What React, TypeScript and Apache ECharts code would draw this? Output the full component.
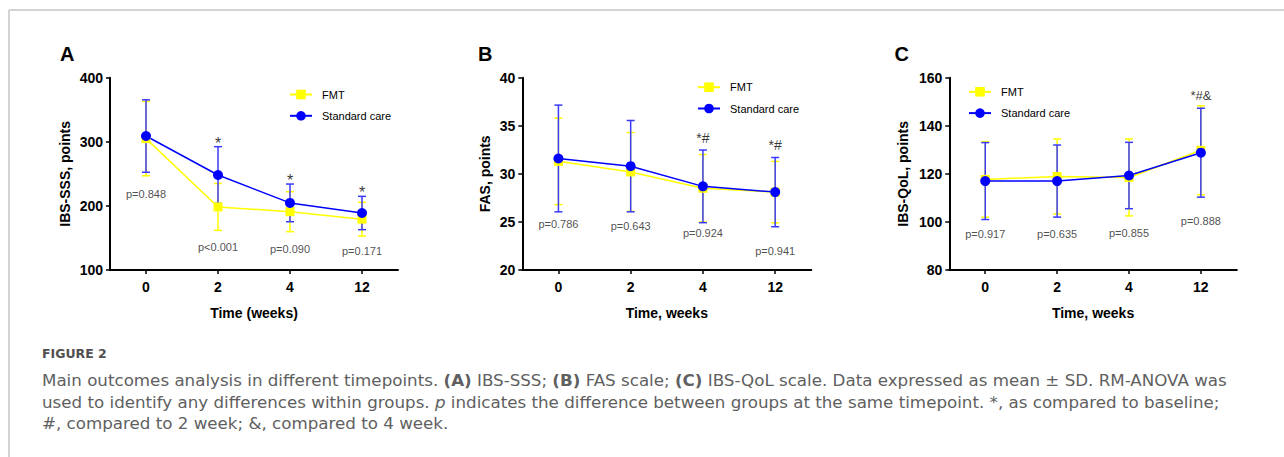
import React, { useEffect, useRef } from 'react';
import * as echarts from 'echarts';

// ---------- data ----------
const weeks = ['0', '2', '4', '12'];
const seriesNames = ['FMT', 'Standard care'];

// Panel A: IBS-SSS
const sssFmtMean = [305, 198.4, 191, 179.3];
const sssFmtSd = [58, 36.6, 31.2, 26.3];
const sssScMean = [309, 248.2, 204.7, 188.9];
const sssScSd = [56.5, 44.2, 29.4, 26];
const sssPValues = ['p=0.848', 'p<0.001', 'p=0.090', 'p=0.171'];
const sssMarks = ['', '*', '*', '*'];

// Panel B: FAS
const fasFmtMean = [31.3, 30.2, 28.5, 28.1];
const fasFmtSd = [4.5, 4.1, 3.5, 3.2];
const fasScMean = [31.6, 30.8, 28.7, 28.1];
const fasScSd = [5.55, 4.75, 3.78, 3.6];
const fasPValues = ['p=0.786', 'p=0.643', 'p=0.924', 'p=0.941'];
const fasMarks = ['', '', '*#', '*#'];

// Panel C: IBS-QoL
const qolFmtMean = [117.7, 118.9, 118.5, 129.8];
const qolFmtSd = [15.7, 15.6, 16, 18.5];
const qolScMean = [117.0, 117.0, 119.3, 128.8];
const qolScSd = [16, 15, 13.8, 18.5];
const qolPValues = ['p=0.917', 'p=0.635', 'p=0.855', 'p=0.888'];
const qolMarks = ['', '', '', '*#&'];

// annotation anchor heights (axis units)
const sssPAt = [218.6, 136.3, 133.2, 130.1];
const sssMarkAt = [0, 297.3, 240.1, 220.9];
const fasPAt = [24.75, 24.58, 23.88, 22.0];
const fasMarkAt = [0, 0, 33.76, 33.0];
const qolPAt = [94.9, 94.9, 95.3, 100.4];
const qolMarkAt = [0, 0, 0, 152.8];

const FONT = 'Arial, "Liberation Sans", Helvetica, sans-serif';
const CAP_FONT = '"DejaVu Sans", "Open Sans", sans-serif';
const CAP_SIZE = 16.7;
const CAP_COLOR = '#606060';
const YELLOW = '#ffff00';
const BLUE = '#0000ff';
const BLUE_ERR = '#3a3aff';

type Panel = {
  letter: string;
  yName: string;
  xName: string;
  min: number;
  max: number;
  interval: number;
  fmtMean: number[];
  fmtSd: number[];
  scMean: number[];
  scSd: number[];
  pValues: string[];
  marks: string[];
  pAt: number[];
  markAt: number[];
  markSize: number;
  grid: { left: number; top: number; width: number; height: number };
  yNameGap: number;
  legend: { left: number; top: number };
  letterPos: [number, number];
};

const panels: Panel[] = [
  {
    letter: 'A', yName: 'IBS-SSS, points', xName: 'Time (weeks)', min: 100, max: 400, interval: 100,
    fmtMean: sssFmtMean, fmtSd: sssFmtSd, scMean: sssScMean, scSd: sssScSd,
    pValues: sssPValues, marks: sssMarks, pAt: sssPAt, markAt: sssMarkAt, markSize: 16,
    grid: { left: 110, top: 77.7, width: 288, height: 192.3 }, yNameGap: 38,
    legend: { left: 289, top: 89 }, letterPos: [67, 55],
  },
  {
    letter: 'B', yName: 'FAS, points', xName: 'Time, weeks', min: 20, max: 40, interval: 5,
    fmtMean: fasFmtMean, fmtSd: fasFmtSd, scMean: fasScMean, scSd: fasScSd,
    pValues: fasPValues, marks: fasMarks, pAt: fasPAt, markAt: fasMarkAt, markSize: 14,
    grid: { left: 522.3, top: 77.7, width: 289, height: 192.3 }, yNameGap: 30,
    legend: { left: 697, top: 81.7 }, letterPos: [485, 55],
  },
  {
    letter: 'C', yName: 'IBS-QoL, points', xName: 'Time, weeks', min: 80, max: 160, interval: 20,
    fmtMean: qolFmtMean, fmtSd: qolFmtSd, scMean: qolScMean, scSd: qolScSd,
    pValues: qolPValues, marks: qolMarks, pAt: qolPAt, markAt: qolMarkAt, markSize: 13,
    grid: { left: 949.3, top: 77.7, width: 287.5, height: 192.3 }, yNameGap: 39,
    legend: { left: 968, top: 86.3 }, letterPos: [901.5, 55],
  },
];

const errRender = (color: string) => (params: any, api: any) => {
  const x = api.value(0);
  const lo = api.coord([x, api.value(1)]);
  const hi = api.coord([x, api.value(2)]);
  const hw = 4;
  const style = { stroke: color, lineWidth: 1.5, fill: 'none' };
  return {
    type: 'group',
    children: [
      { type: 'line', shape: { x1: lo[0], y1: lo[1], x2: hi[0], y2: hi[1] }, style },
      { type: 'line', shape: { x1: lo[0] - hw, y1: lo[1], x2: lo[0] + hw, y2: lo[1] }, style },
      { type: 'line', shape: { x1: hi[0] - hw, y1: hi[1], x2: hi[0] + hw, y2: hi[1] }, style },
    ],
  };
};

function buildOption() {
  const grid: any[] = [];
  const xAxis: any[] = [];
  const yAxis: any[] = [];
  const legend: any[] = [];
  const series: any[] = [];
  const graphic: any[] = [];

  panels.forEach((p, i) => {
    grid.push({ ...p.grid, containLabel: false });
    xAxis.push({
      type: 'category', gridIndex: i, data: weeks, boundaryGap: true,
      axisLine: { lineStyle: { color: '#000', width: 2 } },
      axisTick: { show: true, alignWithLabel: true, length: 4, lineStyle: { color: '#000', width: 1.5 } },
      axisLabel: { color: '#000', fontFamily: FONT, fontWeight: 'bold', fontSize: 14, margin: 10 },
      name: p.xName, nameLocation: 'middle', nameGap: 36,
      nameTextStyle: { color: '#000', fontFamily: FONT, fontWeight: 'bold', fontSize: 14 },
      splitLine: { show: false },
    });
    yAxis.push({
      type: 'value', gridIndex: i, min: p.min, max: p.max, interval: p.interval,
      axisLine: { show: true, lineStyle: { color: '#000', width: 2 } },
      axisTick: { show: true, length: 4, lineStyle: { color: '#000', width: 1.5 } },
      axisLabel: { color: '#000', fontFamily: FONT, fontWeight: 'bold', fontSize: 14, margin: 7 },
      splitLine: { show: false },
      name: p.yName, nameLocation: 'middle', nameGap: p.yNameGap,
      nameTextStyle: { color: '#000', fontFamily: FONT, fontWeight: 'bold', fontSize: 14 },
    });
    legend.push({
      data: seriesNames, orient: 'vertical', left: p.legend.left, top: p.legend.top,
      itemWidth: 22, itemHeight: 12, itemGap: 10.3, padding: 0, selectedMode: false,
      textStyle: { color: '#000', fontFamily: FONT, fontSize: 11, padding: [0, 0, 0, 5] },
    });

    series.push({
      type: 'custom', name: 'FMT SD ' + p.letter, xAxisIndex: i, yAxisIndex: i, silent: true,
      renderItem: errRender(YELLOW), encode: { x: 0, y: [1, 2] },
      data: p.fmtMean.map((m, k) => [k, m - p.fmtSd[k], m + p.fmtSd[k]]),
    });
    series.push({
      type: 'line', name: seriesNames[0], xAxisIndex: i, yAxisIndex: i, silent: true,
      data: p.fmtMean, symbol: 'rect', symbolSize: 9,
      lineStyle: { color: YELLOW, width: 1.5 }, itemStyle: { color: YELLOW },
    });
    series.push({
      type: 'custom', name: 'SC SD ' + p.letter, xAxisIndex: i, yAxisIndex: i, silent: true,
      renderItem: errRender(BLUE_ERR), encode: { x: 0, y: [1, 2] },
      data: p.scMean.map((m, k) => [k, m - p.scSd[k], m + p.scSd[k]]),
    });
    series.push({
      type: 'line', name: seriesNames[1], xAxisIndex: i, yAxisIndex: i, silent: true,
      data: p.scMean, symbol: 'circle', symbolSize: 10,
      lineStyle: { color: BLUE, width: 1.5 }, itemStyle: { color: BLUE },
    });

    const ann: any[] = [];
    p.pValues.forEach((t, k) => {
      ann.push({
        value: [k, p.pAt[k]],
        label: { formatter: t, fontSize: 11, color: '#222', fontFamily: FONT },
      });
    });
    p.marks.forEach((t, k) => {
      if (!t) return;
      ann.push({
        value: [k, p.markAt[k]],
        label: { formatter: t, fontSize: p.markSize, color: '#000', fontFamily: FONT },
      });
    });
    series.push({
      type: 'scatter', name: 'notes ' + p.letter, xAxisIndex: i, yAxisIndex: i, silent: true,
      symbolSize: 0, z: 10, data: ann,
      label: { show: true, position: 'inside', align: 'center', verticalAlign: 'middle' },
    });

    graphic.push({
      type: 'text', left: p.letterPos[0] - 7, top: p.letterPos[1] - 11,
      style: { text: p.letter, font: `bold 20px ${FONT}`, fill: '#000' },
    });
  });

  // frame
  graphic.push({ type: 'line', shape: { x1: 9, y1: 10, x2: 1284, y2: 10 }, style: { stroke: '#c4c4c4', lineWidth: 1.5 } });
  graphic.push({ type: 'line', shape: { x1: 9, y1: 10, x2: 9, y2: 457 }, style: { stroke: '#c4c4c4', lineWidth: 1.5 } });

  // caption
  const rich = {
    n: { fontFamily: CAP_FONT, fontSize: CAP_SIZE, color: CAP_COLOR },
    b: { fontFamily: CAP_FONT, fontSize: CAP_SIZE, fontWeight: 'bold', color: CAP_COLOR },
    i: { fontFamily: CAP_FONT, fontSize: CAP_SIZE, fontStyle: 'italic', color: CAP_COLOR },
  };
  graphic.push({
    type: 'text', x: 42, y: 353, style: { text: 'FIGURE 2', font: `bold 12.5px ${CAP_FONT}`, fill: '#505050', verticalAlign: 'middle' },
  });
  const lines = [
    '{n|Main outcomes analysis in different timepoints. }{b|(A)}{n| IBS-SSS; }{b|(B)}{n| FAS scale; }{b|(C)}{n| IBS-QoL scale. Data expressed as mean ± SD. RM-ANOVA was}',
    '{n|used to identify any differences within groups. }{i|p}{n| indicates the difference between groups at the same timepoint. *, as compared to baseline;}',
    '{n|#, compared to 2 week; &, compared to 4 week.}',
  ];
  const ys = [380, 401.5, 423.3];
  lines.forEach((t, k) => {
    graphic.push({
      type: 'text', x: 42, y: ys[k],
      style: { text: t, rich, verticalAlign: 'middle', fill: CAP_COLOR, font: `${CAP_SIZE}px ${CAP_FONT}` },
    });
  });

  return { animation: false, backgroundColor: '#ffffff', grid, xAxis, yAxis, legend, series, graphic };
}

export default function App() {
  const ref = useRef<HTMLDivElement>(null);
  useEffect(() => {
    if (!ref.current) return;
    const chart = echarts.init(ref.current, undefined, { renderer: 'svg' });
    chart.setOption(buildOption() as any);
    return () => chart.dispose();
  }, []);
  return (
    <div
      ref={ref}
      style={{ position: 'absolute', left: 0, top: 0, width: 1284, height: 457, background: '#fff' }}
    />
  );
}
